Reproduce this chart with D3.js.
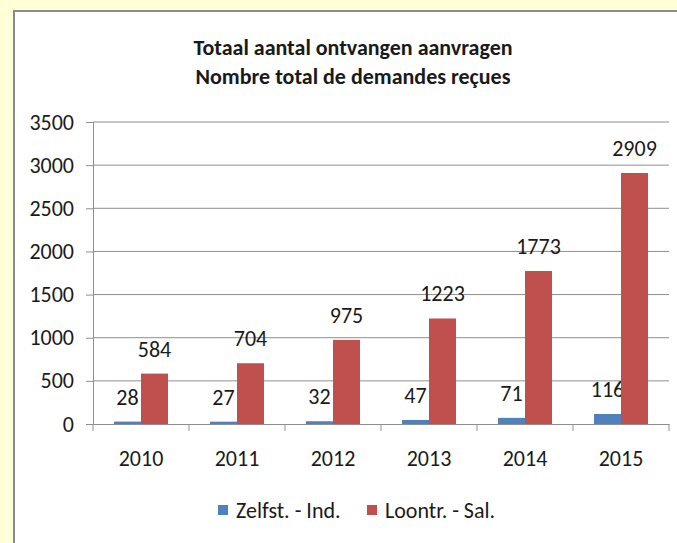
<!DOCTYPE html>
<html lang="en">
<head>
  <meta charset="UTF-8">
  <title>Totaal aantal ontvangen aanvragen</title>
  <style>
    body { margin: 0; background: #ffffd8; }
    text { font-family: Calibri, Carlito, Lato, sans-serif; fill: #1a1a1a; }
  </style>
</head>
<body>
  <div id="main"></div>
  <script src="https://cdn.jsdelivr.net/npm/d3@7"></script>
  <script>
    // data
    const years = ['2010', '2011', '2012', '2013', '2014', '2015']
    const zelfst = [28, 27, 32, 47, 71, 116]
    const loontr = [584, 704, 975, 1223, 1773, 2909]
    const seriesNames = ['Zelfst. - Ind.', 'Loontr. - Sal.']
    const yTicks = [0, 500, 1000, 1500, 2000, 2500, 3000, 3500]
    const colors = ['#4f81bd', '#c0504d']

    const W = 677, H = 543
    const plotLeft = 93, plotRight = 669, plotTop = 122, plotBottom = 424
    const fs = '22px'

    const svg = d3.select('#main').append('svg')
      .attr('width', W).attr('height', H)
      .style('display', 'block')

    // panel
    svg.append('rect')
      .attr('x', 14).attr('y', 11)
      .attr('width', W).attr('height', H)
      .attr('fill', '#fff')
      .attr('stroke', '#8c8c8c')
      .attr('stroke-width', 2)

    const x = d3.scaleBand().domain(years).range([plotLeft, plotRight])
    const y = d3.scaleLinear().domain([0, 3500]).range([plotBottom, plotTop])
    const barW = 27

    // gridlines
    svg.append('g')
      .selectAll('line').data(yTicks.filter(d => d > 0)).join('line')
      .attr('x1', plotLeft).attr('x2', plotRight)
      .attr('y1', d => y(d)).attr('y2', d => y(d))
      .attr('stroke', '#8e8e8e').attr('stroke-width', 1)

    // y axis
    const yAxis = svg.append('g')
      .attr('transform', `translate(${plotLeft},0)`)
      .call(d3.axisLeft(y).tickValues(yTicks).tickFormat(d3.format('d')).tickSize(7).tickPadding(12))
    yAxis.select('.domain').attr('stroke', '#8e8e8e')
    yAxis.selectAll('.tick line').attr('stroke', '#8e8e8e')
    yAxis.selectAll('text').style('font-size', fs).attr('fill', '#1a1a1a')

    // bars
    const series = [zelfst, loontr]
    series.forEach((vals, si) => {
      const g = svg.append('g')
      g.selectAll('rect').data(vals).join('rect')
        .attr('x', (d, i) => x(years[i]) + x.bandwidth() / 2 - barW + si * barW)
        .attr('y', d => y(d))
        .attr('width', barW)
        .attr('height', d => y(0) - y(d))
        .attr('fill', colors[si])
      g.selectAll('text').data(vals).join('text')
        .attr('x', (d, i) => x(years[i]) + x.bandwidth() / 2 - barW / 2 + si * barW)
        .attr('y', d => y(d) - 17)
        .attr('text-anchor', 'middle')
        .style('font-size', fs)
        .text(d => d)
    })

    // x axis
    const xAxis = svg.append('g')
      .attr('transform', `translate(0,${plotBottom})`)
      .call(d3.axisBottom(x).tickSize(0).tickPadding(26))
    xAxis.select('.domain').attr('stroke', '#8e8e8e')
    xAxis.selectAll('text').style('font-size', fs).attr('fill', '#1a1a1a')
    // boundary ticks
    svg.append('g')
      .selectAll('line').data(d3.range(years.length + 1)).join('line')
      .attr('x1', i => plotLeft + i * x.step()).attr('x2', i => plotLeft + i * x.step())
      .attr('y1', plotBottom).attr('y2', plotBottom + 7)
      .attr('stroke', '#8e8e8e')

    // title
    const title = svg.append('text')
      .attr('x', 353).attr('text-anchor', 'middle')
      .style('font-size', '22px').style('font-weight', 'bold')
    title.append('tspan').attr('x', 353).attr('y', 55).text('Totaal aantal ontvangen aanvragen')
    title.append('tspan').attr('x', 353).attr('y', 84).text('Nombre total de demandes reçues')

    // legend
    const legendX = [218, 367]
    seriesNames.forEach((name, i) => {
      svg.append('rect')
        .attr('x', legendX[i]).attr('y', 505)
        .attr('width', 10).attr('height', 10)
        .attr('fill', colors[i])
      svg.append('text')
        .attr('x', legendX[i] + 18).attr('y', 518)
        .style('font-size', fs)
        .text(name)
    })
  </script>
</body>
</html>
